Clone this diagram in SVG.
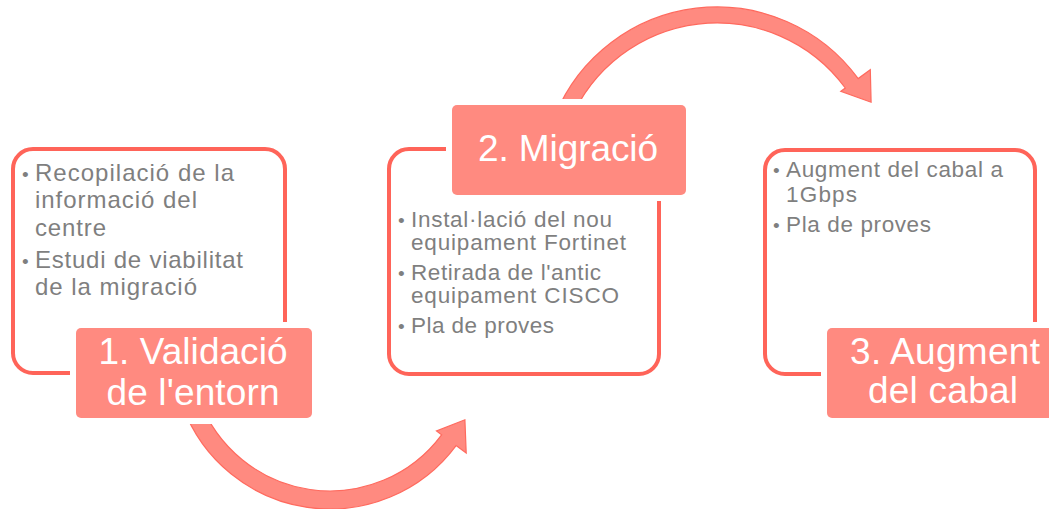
<svg xmlns="http://www.w3.org/2000/svg" width="1049" height="509" viewBox="0 0 1049 509">
<style>
.frame{fill:#FFFFFF;stroke:#FF6459;stroke-width:4}
.halo{fill:#FFFFFF}
.label{fill:#FF8A80}
.arrow{fill:#FF8A80;stroke:#FF6A5E;stroke-width:1.2}
.t{font-family:"Liberation Sans",Arial,sans-serif;fill:#7F7F7F}
.b1{font-size:24px}
.b2{font-size:22.5px}
.bul{font-family:"Liberation Sans",Arial,sans-serif;fill:#7F7F7F;font-size:19px}
.h{font-family:"Liberation Sans",Arial,sans-serif;fill:#FFFFFF;font-size:37px;text-anchor:middle}
</style>
<rect width="1049" height="509" fill="#FFFFFF"/>
<g id="connectors">
<path class="arrow" d="M182.5,405.7 A157,157 0 0 0 456.1,445.6 L466.2,453.1 L464.9,419.8 L436.5,431.0 L441.6,434.8 A139,139 0 0 1 199.4,399.5 Z"/>
<path class="arrow" d="M555.3,115 A175,175 0 0 1 858.2,78.6 L870.3,69.7 L871.1,102.2 L840.8,91.3 L845.3,88.0 A159,159 0 0 0 570.1,121.2 Z"/>
</g>
<g id="node1">
<rect class="frame" x="13" y="149" width="272" height="224" rx="20"/>
<text class="bul" x="22" y="181">•</text>
<text class="t b1" x="35" y="181" textLength="199" lengthAdjust="spacing">Recopilació de la</text>
<text class="t b1" x="35" y="208" textLength="162" lengthAdjust="spacing">informació del</text>
<text class="t b1" x="35" y="236" textLength="71" lengthAdjust="spacing">centre</text>
<text class="bul" x="22" y="268">•</text>
<text class="t b1" x="35" y="268" textLength="208" lengthAdjust="spacing">Estudi de viabilitat</text>
<text class="t b1" x="35" y="295" textLength="162" lengthAdjust="spacing">de la migració</text>
<rect class="halo" x="70" y="322" width="248" height="102" rx="8"/>
<rect class="label" x="76" y="328" width="236" height="90" rx="5"/>
<text class="h" x="193" y="364" textLength="189" lengthAdjust="spacing">1. Validació</text>
<text class="h" x="193" y="405" textLength="173" lengthAdjust="spacing">de l'entorn</text>
</g>
<g id="node2">
<rect class="frame" x="389" y="149" width="270" height="225" rx="20"/>
<text class="bul" x="398" y="227">•</text>
<text class="t b2" x="411" y="227" textLength="201" lengthAdjust="spacing">Instal·lació del nou</text>
<text class="t b2" x="411" y="250" textLength="215" lengthAdjust="spacing">equipament Fortinet</text>
<text class="bul" x="398" y="280">•</text>
<text class="t b2" x="411" y="280" textLength="190" lengthAdjust="spacing">Retirada de l'antic</text>
<text class="t b2" x="411" y="303" textLength="208" lengthAdjust="spacing">equipament CISCO</text>
<text class="bul" x="398" y="333">•</text>
<text class="t b2" x="411" y="333" textLength="143" lengthAdjust="spacing">Pla de proves</text>
<rect class="halo" x="446" y="99" width="246" height="102" rx="8"/>
<rect class="label" x="452" y="105" width="234" height="90" rx="5"/>
<text class="h" x="568" y="161" textLength="180" lengthAdjust="spacing">2. Migració</text>
</g>
<g id="node3">
<rect class="frame" x="765" y="150" width="270" height="224" rx="20"/>
<text class="bul" x="773" y="177">•</text>
<text class="t b2" x="786" y="177" textLength="217" lengthAdjust="spacing">Augment del cabal a</text>
<text class="t b2" x="786" y="202" textLength="71" lengthAdjust="spacing">1Gbps</text>
<text class="bul" x="773" y="232">•</text>
<text class="t b2" x="786" y="232" textLength="145" lengthAdjust="spacing">Pla de proves</text>
<rect class="halo" x="821" y="322" width="248" height="102" rx="8"/>
<rect class="label" x="827" y="328" width="236" height="90" rx="5"/>
<text class="h" x="945" y="364" textLength="190" lengthAdjust="spacing">3. Augment</text>
<text class="h" x="943" y="403" textLength="150" lengthAdjust="spacing">del cabal</text>
</g>
</svg>
